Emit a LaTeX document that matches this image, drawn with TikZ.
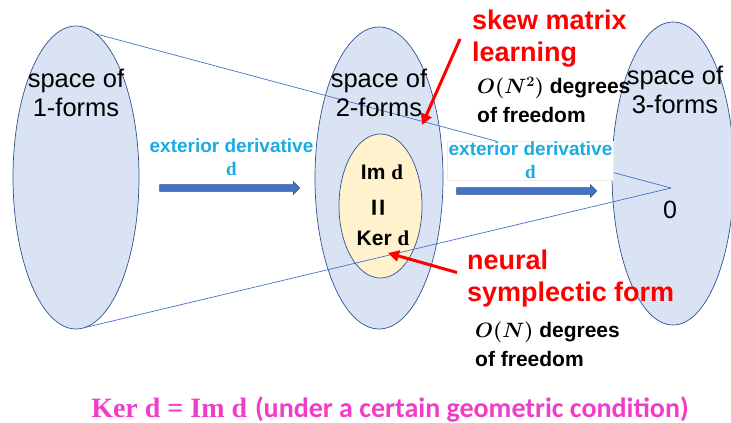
\documentclass[tikz,border=0pt]{standalone}
\usepackage{amsmath}
\usepackage[no-math]{fontspec}
\setmainfont{Liberation Sans}
\newfontfamily\calibri{Carlito}
\newfontfamily\cambria{Liberation Serif}
\usepackage{tikz}
\usetikzlibrary{shapes, arrows.meta, positioning}

\definecolor{spacefill}{HTML}{DAE3F3}
\definecolor{spaceline}{HTML}{2F528F}
\definecolor{imfill}{HTML}{FFF2CC}
\definecolor{coneline}{HTML}{4472C4}
\definecolor{derivcol}{HTML}{1AABE3}
\definecolor{notecol}{HTML}{FF0000}
\definecolor{pinkcol}{HTML}{F03CC8}

\newcommand{\opd}{{\cambria\bfseries d}}

\begin{document}
\begin{tikzpicture}[
            x=1pt, y=1pt,
            space/.style={ellipse, draw=spaceline, fill=spacefill, line width=0.7pt, inner sep=0pt, outer sep=0pt},
            spacelabel/.style={align=center, font=\fontsize{25.5}{29}\selectfont},
            deriv/.style={align=center, text=derivcol, font=\fontsize{19}{23}\selectfont\bfseries},
            blockarrow/.style={single arrow, draw=spaceline, fill=coneline, minimum height=140pt,
                single arrow head extend=3pt, inner xsep=0pt, inner ysep=3pt, line width=0.6pt},
            note/.style={align=left, anchor=west, inner sep=0pt, text=notecol, font=\fontsize{27}{32}\selectfont\bfseries},
            dof/.style={align=left, anchor=west, inner sep=0pt, font=\fontsize{21}{29}\selectfont\bfseries},
            pointer/.style={-{Triangle[length=11pt, width=11pt]}, notecol, line width=3pt},
            cone/.style={coneline, line width=0.7pt}
        ]
            \useasboundingbox (0,0) rectangle (731,423);

            % spaces of forms
            \node[space, minimum width=126pt, minimum height=303pt] (one)   at (76,245.5)  {};
            \node[space, minimum width=128pt, minimum height=302pt] (two)   at (379,245)   {};
            \node[space, fill=imfill, minimum width=83pt, minimum height=144pt] (imd) at (380.5,217) {};
            \node[space, minimum width=122pt, minimum height=303pt] (three) at (673,249.5) {};

            \coordinate (apex) at (671,235);
            \draw[cone] (one.82)  -- (apex);
            \draw[cone] (one.-87) -- (apex);

            \node[spacelabel] (onelabel)   at (76,330)  {space of\\1-forms};
            \node[spacelabel] (twolabel)   at (379,330) {space of\\2-forms};
            \node[spacelabel] (threelabel) at (675,333) {space of\\3-forms};
            \node[font=\fontsize{25}{29}\selectfont] (zero) at (670,213) {0};

            % exterior derivative
            \node[deriv] (dleft) at (231.5,266) {exterior derivative\\\opd};
            \node[deriv, fill=white, draw=gray!15, inner sep=1pt] (dright) at (530.5,262.5) {exterior derivative\\\opd};
            \node[blockarrow] (arrowleft)  at (228,235) {};
            \node[blockarrow] (arrowright) at (525,232) {};

            % Im d = Ker d
            \node[font=\fontsize{21}{24}\selectfont\bfseries] (imtext)  at (382,251) {Im \opd};
            \node[font=\fontsize{30}{30}\selectfont\bfseries, rotate=90] (eqtext) at (381,215) {=};
            \node[font=\fontsize{21}{24}\selectfont\bfseries] (kertext) at (383,185) {Ker \opd};

            % notes
            \node[note] (skew) at (472,384) {skew matrix\\learning};
            \node[dof]  (dofskew) at (477,323) {$\boldsymbol{O(N^2)}$ degrees\\of freedom};
            \node[note] (neural) at (467,144.5) {neural\\symplectic form};
            \node[dof]  (dofneural) at (475,78.5) {$\boldsymbol{O(N)}$ degrees\\of freedom};

            \coordinate (skewtip)   at (422,298);
            \coordinate (neuraltip) at (388,170);
            \draw[pointer] ([xshift=-12pt]skew.west) -- (skewtip);
            \draw[pointer] ([xshift=-10pt,yshift=6pt]neural.west) -- (neuraltip);

            % condition
            \node[text=pinkcol, font=\fontsize{28}{30}\selectfont\bfseries] (cond) at (390,14)
                {{\cambria Ker d = Im d} {\calibri (under a certain geometric condition)}};
        \end{tikzpicture}
\end{document}
